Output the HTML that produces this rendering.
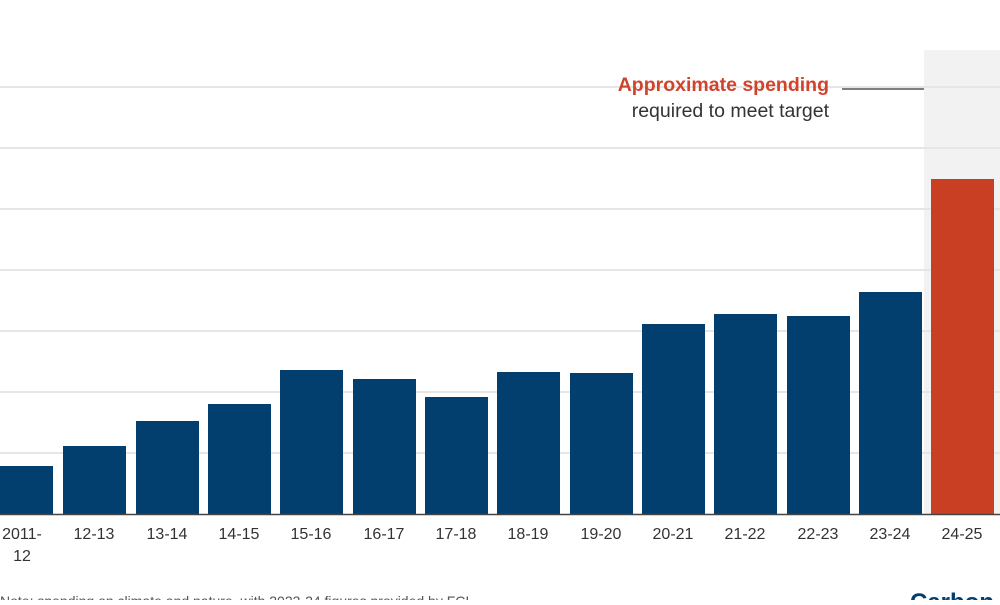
<!DOCTYPE html>
<html><head><style>
body{margin:0;width:1000px;height:600px;overflow:hidden;background:#fff;font-family:"Liberation Sans",sans-serif}
</style></head><body>
<svg width="1000" height="600" xmlns="http://www.w3.org/2000/svg">
<rect x="924" y="50" width="76" height="464" fill="#f2f2f2"/>
<g stroke="#e6e6e6" stroke-width="2">
<line x1="0" y1="87" x2="1000" y2="87"/><line x1="0" y1="148" x2="1000" y2="148"/>
<line x1="0" y1="209" x2="1000" y2="209"/><line x1="0" y1="270" x2="1000" y2="270"/>
<line x1="0" y1="331" x2="1000" y2="331"/><line x1="0" y1="392" x2="1000" y2="392"/>
<line x1="0" y1="453" x2="1000" y2="453"/>
</g>
<g fill="#033f6e">
<rect x="-10" y="466" width="63" height="48"/>
<rect x="63" y="446" width="63" height="68"/>
<rect x="136" y="421" width="63" height="93"/>
<rect x="208" y="404" width="63" height="110"/>
<rect x="280" y="370" width="63" height="144"/>
<rect x="353" y="379" width="63" height="135"/>
<rect x="425" y="397" width="63" height="117"/>
<rect x="497" y="372" width="63" height="142"/>
<rect x="570" y="373" width="63" height="141"/>
<rect x="642" y="324" width="63" height="190"/>
<rect x="714" y="314" width="63" height="200"/>
<rect x="787" y="316" width="63" height="198"/>
<rect x="859" y="292" width="63" height="222"/>
</g>
<rect x="931" y="179" width="63" height="335" fill="#c83f24"/>
<line x1="0" y1="514.5" x2="1000" y2="514.5" stroke="#444" stroke-width="1.5"/>
<line x1="842" y1="89" x2="924" y2="89" stroke="#555" stroke-width="1.5"/>
<text x="829" y="91" text-anchor="end" font-size="19.5" font-weight="bold" fill="#d0442c">Approximate spending</text>
<text x="829" y="117" text-anchor="end" font-size="19.5" fill="#333">required to meet target</text>
<g font-size="16" fill="#333" text-anchor="middle">
<text x="22" y="539">2011-</text><text x="22" y="561">12</text>
<text x="94" y="539">12-13</text><text x="167" y="539">13-14</text><text x="239" y="539">14-15</text>
<text x="311" y="539">15-16</text><text x="384" y="539">16-17</text><text x="456" y="539">17-18</text>
<text x="528" y="539">18-19</text><text x="601" y="539">19-20</text><text x="673" y="539">20-21</text>
<text x="745" y="539">21-22</text><text x="818" y="539">22-23</text><text x="890" y="539">23-24</text>
<text x="962" y="539">24-25</text>
</g>
<text x="0" y="606" font-size="14" fill="#555">Note: spending on climate and nature, with 2023-24 figures provided by FCI</text>
<text x="910" y="610" font-size="24" font-weight="bold" fill="#033f6e">Carbon</text>
</svg>
</body></html>
